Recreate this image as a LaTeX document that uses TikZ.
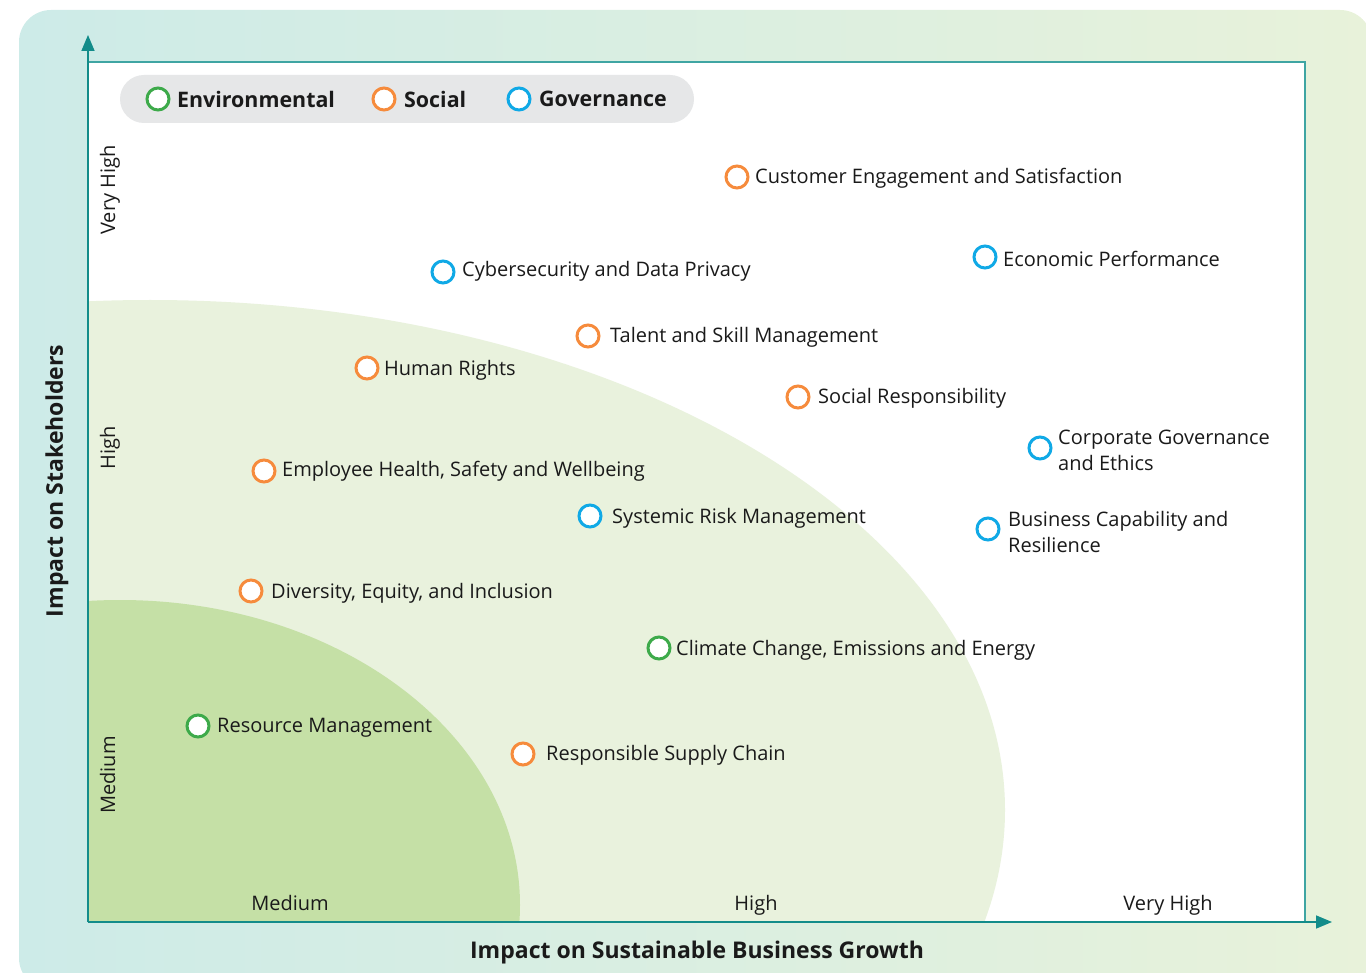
\documentclass[tikz,border=0pt]{standalone}
\usepackage{fontspec}
\setmainfont{Open Sans}
\usetikzlibrary{arrows.meta,positioning}

\definecolor{bgLeft}{HTML}{CDEBE8}
\definecolor{bgRight}{HTML}{E8F2DA}
\definecolor{zoneHigh}{HTML}{E9F2DD}
\definecolor{zoneMed}{HTML}{C5E0A6}
\definecolor{pill}{HTML}{E6E7E8}
\definecolor{axis}{HTML}{138C8A}
\definecolor{frame}{HTML}{3FA5A3}
\definecolor{ink}{HTML}{1A1A1A}
\definecolor{env}{HTML}{3DAA4A}
\definecolor{soc}{HTML}{F68B3C}
\definecolor{gov}{HTML}{10A9E6}

\begin{document}
\begin{tikzpicture}[x=1pt,y=-1pt,
	dot/.style={shape=circle,draw=#1,fill=white,line width=3pt,minimum size=22pt,inner sep=0pt},
	txt/.style={anchor=west,inner sep=0pt,text=ink,align=left,yshift=-1.5pt,font=\fontsize{20}{26}\selectfont},
	legtxt/.style={anchor=west,inner sep=0pt,text=ink,font=\fontsize{21.4}{25}\selectfont\bfseries},
	level/.style={inner sep=0pt,text=ink,anchor=base,font=\fontsize{20}{24}\selectfont},
	title/.style={inner sep=0pt,text=ink,font=\fontsize{23}{27}\selectfont\bfseries}]

	\useasboundingbox (0,0) rectangle (1366,973);

	% background panel
	\begin{scope}
		\clip (0,0) rectangle (1366,973);
		\shade[left color=bgLeft, right color=bgRight, rounded corners=32pt] (19,10) rectangle (1372,990);
	\end{scope}

	% plot area and zones
	\coordinate (O) at (88,922);
	\coordinate (TL) at (88,62);
	\coordinate (TR) at (1305,62);
	\coordinate (BR) at (1305,922);
	\fill[white] (TL) rectangle (BR);
	\begin{scope}
		\clip (TL) rectangle (BR);
		\fill[zoneHigh] (150,810) ellipse [x radius=855, y radius=510];
		\fill[zoneMed] (120,905) ellipse [x radius=400, y radius=305];
	\end{scope}
	\draw[frame, line width=1.6pt] (TL) -- (TR) -- (BR);

	% axes
	\coordinate (ytip) at (88,35);
	\coordinate (xtip) at (1332,922);
	\draw[axis, line width=1.6pt, -{Triangle[length=16pt,width=13pt]}] (O) -- (ytip);
	\draw[axis, line width=1.6pt, -{Triangle[length=16pt,width=13pt]}] (O) -- (xtip);

	% legend
	\fill[pill, rounded corners=24pt] (120,75) rectangle (694,123);
	\node[dot=env] (legE) at (158,99) {};
	\node[legtxt] (legEt) at (177,99) {Environmental};
	\node[dot=soc] (legS) at (384,99) {};
	\node[legtxt] (legSt) at (404,99) {Social};
	\node[dot=gov] (legG) at (519,99) {};
	\node[legtxt] (legGt) at (539,99) {Governance};

	% topics
	\node[dot=soc] (cust) at (737,177) {};
	\node[txt] (custT) at (755,177) {Customer Engagement and Satisfaction};
	\node[dot=gov] (econ) at (985,257) {};
	\node[txt] (econT) at (1003,257) {Economic Performance};
	\node[dot=gov] (cyber) at (443,272) {};
	\node[txt] (cyberT) at (462,270) {Cybersecurity and Data Privacy};
	\node[dot=soc] (talent) at (588,336) {};
	\node[txt] (talentT) at (610,336) {Talent and Skill Management};
	\node[dot=soc] (rights) at (367,368) {};
	\node[txt] (rightsT) at (384,369) {Human Rights};
	\node[dot=soc] (socresp) at (798,397) {};
	\node[txt] (socrespT) at (818,397) {Social Responsibility};
	\node[dot=gov] (corpgov) at (1040,448) {};
	\node[txt] (corpgovT) at (1058,449) {Corporate Governance\\and Ethics};
	\node[dot=soc] (health) at (264,471) {};
	\node[txt] (healthT) at (282,470) {Employee Health, Safety and Wellbeing};
	\node[dot=gov] (risk) at (590,516) {};
	\node[txt] (riskT) at (612,517) {Systemic Risk Management};
	\node[dot=gov] (bizcap) at (988,529) {};
	\node[txt] (bizcapT) at (1008,530) {Business Capability and\\Resilience};
	\node[dot=soc] (dei) at (251,591) {};
	\node[txt] (deiT) at (271,592) {Diversity, Equity, and Inclusion};
	\node[dot=env] (climate) at (659,648) {};
	\node[txt] (climateT) at (676,649) {Climate Change, Emissions and Energy};
	\node[dot=env] (resource) at (198,726) {};
	\node[txt] (resourceT) at (217,726) {Resource Management};
	\node[dot=soc] (supply) at (523,754) {};
	\node[txt] (supplyT) at (546,754) {Responsible Supply Chain};

	% axis levels
	\node[level] (xmed) at (290,910) {Medium};
	\node[level] (xhigh) at (756,910) {High};
	\node[level] (xvhigh) at (1168,910) {Very High};
	\node[level, rotate=90] (ymed) at (115,775) {Medium};
	\node[level, rotate=90] (yhigh) at (115,448) {High};
	\node[level, rotate=90] (yvhigh) at (115,190) {Very High};

	% axis titles
	\node[title] (xtitle) at (697,953) {Impact on Sustainable Business Growth};
	\node[title, rotate=90] (ytitle) at (57,481) {Impact on Stakeholders};

\end{tikzpicture}
\end{document}
